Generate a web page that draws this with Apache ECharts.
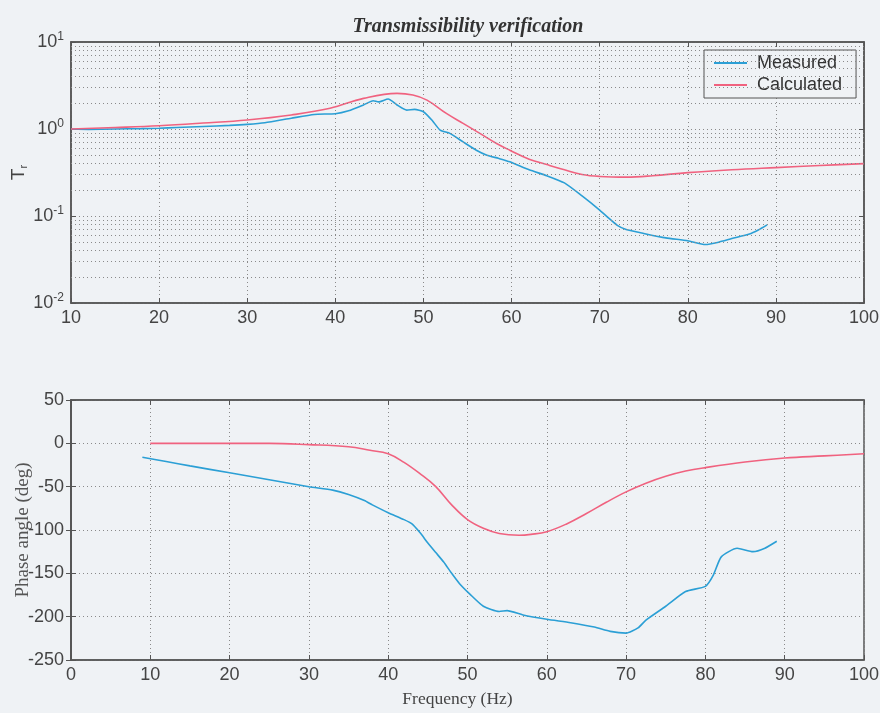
<!DOCTYPE html>
<html>
<head>
<meta charset="utf-8">
<script src="https://cdn.jsdelivr.net/npm/echarts@6/dist/echarts.min.js"></script>
<style>
html,body{margin:0;padding:0;background:#eff2f5;}
#c{width:880px;height:713px;}
</style>
</head>
<body>
<div id="c"></div>
<script>
// ---- Data ----
var titleText = 'Transmissibility verification';
var seriesNames = ['Measured', 'Calculated'];

var magFreqMeasured = [10,12,15,18,20,22,25,28,30,32,35,37.6,40,41.5,43.2,44.3,44.9,46,47,48.1,49,50,51,51.9,53,54.5,56,57.2,58.5,59.8,62,64,66,68,70,71,72,73,75,77.5,80,82,83.5,85,87,88,89];
var magMeasured = [1.00,0.99,1.00,1.01,1.02,1.04,1.07,1.10,1.13,1.18,1.33,1.47,1.50,1.62,1.89,2.11,2.05,2.21,1.89,1.65,1.68,1.58,1.25,0.97,0.89,0.71,0.57,0.50,0.46,0.42,0.34,0.29,0.24,0.17,0.117,0.095,0.078,0.070,0.063,0.056,0.052,0.047,0.050,0.055,0.062,0.069,0.079];

var magFreqCalc = [10,15,20,25,30,35,39.4,43.2,47,48.8,50.4,52.6,54.5,56.4,58.3,59.8,62,64,66,68,70,73,76,80,85,90,95,100];
var magCalc = [1.00,1.04,1.09,1.17,1.27,1.45,1.73,2.25,2.57,2.46,2.15,1.51,1.16,0.89,0.68,0.57,0.45,0.39,0.34,0.30,0.285,0.28,0.29,0.315,0.34,0.36,0.38,0.40];

var phFreqMeasured = [9,12,15,20,25,30,33,35,37,38,40,42,43,44,45,46,47,48,49,50.3,52,54,55,57,60,63,66,68,70,71.5,72.5,75,77.5,80,81,82,84,86,87.5,89];
var phMeasured = [-16,-21,-26,-34,-42,-50,-54,-59,-66,-71,-80,-88,-93,-103,-115,-126,-137,-150,-162,-174,-188,-194,-193,-198,-203,-207,-212,-217,-219,-213,-204,-188,-171,-165,-152,-131,-121,-125,-121,-113];

var phFreqCalc = [10,15,20,25,30,35,37.7,40,42,44,46,48,50,52,54,56.5,58,60,62.5,65,67.5,70,72.5,75,77.5,80,85,90,95,100];
var phCalc = [0,0,0,0,-1.5,-4,-8,-12,-22,-35,-50,-71,-88,-98,-104,-106,-105,-102,-93,-81,-68,-56,-46,-38,-32,-28,-21.6,-17,-14.5,-12];

var magMinorGrid = [0.02,0.03,0.04,0.05,0.06,0.07,0.08,0.09,0.2,0.3,0.4,0.5,0.6,0.7,0.8,0.9,2,3,4,5,6,7,8,9];

// ---- Helpers ----
function zip(a, b) { return a.map(function (v, i) { return [v, b[i]]; }); }
var blue = '#2b9fd5';
var red = '#f0627f';
var axisCol = '#555';
var gridCol = '#8a8a8a';
var labelFont = 'Liberation Sans, Arial, sans-serif';
var serif = 'Liberation Serif, DejaVu Serif, serif';

var chart = echarts.init(document.getElementById('c'));

function xAxisBase(grid, min, max) {
  return {
    type: 'value', gridIndex: grid, min: min, max: max, interval: 10,
    axisLine: { show: true, onZero: false, lineStyle: { color: axisCol, width: 1.5 } },
    axisTick: { show: true, inside: true, length: 5, lineStyle: { color: axisCol } },
    axisLabel: { color: '#444', fontSize: 18, fontFamily: labelFont, margin: 6 },
    splitLine: { show: true, lineStyle: { color: gridCol, type: [1, 3], width: 1 } }
  };
}
function boxAxisX(grid, min, max) {
  return {
    type: 'value', gridIndex: grid, min: min, max: max, interval: 10, position: 'top',
    axisLine: { show: true, onZero: false, lineStyle: { color: axisCol, width: 1.5 } },
    axisTick: { show: true, inside: true, length: 5, lineStyle: { color: axisCol } },
    axisLabel: { show: false }, splitLine: { show: false }
  };
}

var supMap = function (v) {
  var e = Math.round(Math.log10(v));
  return '{b|10}{s|' + e + '}';
};

var option = {
  backgroundColor: '#eff2f5',
  animation: false,
  title: {
    text: titleText, left: 463, top: 12, textAlign: 'center',
    textStyle: { fontFamily: serif, fontStyle: 'italic', fontWeight: 'bold', fontSize: 20, color: '#333' }
  },
  legend: {
    data: seriesNames,
    left: 704, top: 50,
    orient: 'vertical',
    backgroundColor: '#eff2f5',
    borderColor: '#555', borderWidth: 1,
    padding: [3, 14, 3, 10],
    itemGap: 2,
    itemWidth: 33, itemHeight: 2,
    icon: 'rect',
    textStyle: { fontFamily: labelFont, fontSize: 18, color: '#333', padding: [0, 0, 0, 5], lineHeight: 20 }
  },
  grid: [
    { left: 71, top: 42, width: 793, height: 261, show: true, borderColor: axisCol, borderWidth: 1.5, backgroundColor: 'transparent', outerBoundsMode: 'none', containLabel: false },
    { left: 71, top: 400, width: 793, height: 260, show: true, borderColor: axisCol, borderWidth: 1.5, backgroundColor: 'transparent', outerBoundsMode: 'none', containLabel: false }
  ],
  xAxis: [
    xAxisBase(0, 10, 100),
    Object.assign(xAxisBase(1, 0, 100), {
      name: 'Frequency (Hz)', nameLocation: 'middle', nameGap: 30, nameMoveOverlap: false,
      nameTextStyle: { fontFamily: serif, fontSize: 17.5, color: '#444', padding: [0, 20, 0, 0] }
    }),
    boxAxisX(0, 10, 100),
    boxAxisX(1, 0, 100)
  ],
  yAxis: [
    {
      type: 'log', logBase: 10, gridIndex: 0, min: 0.01, max: 10,
      name: '{t|T}{r|r}', nameLocation: 'middle', nameGap: 42, nameRotate: 90, nameMoveOverlap: false,
      nameTextStyle: { rich: {
        t: { fontFamily: labelFont, fontSize: 19, color: '#444' },
        r: { fontFamily: labelFont, fontSize: 11, color: '#444', padding: [10, 0, 0, 0] }
      } },
      axisLine: { show: true, lineStyle: { color: axisCol, width: 1.5 } },
      axisTick: { show: true, inside: true, length: 5, lineStyle: { color: axisCol } },
      axisLabel: {
        formatter: supMap, margin: 7,
        rich: {
          b: { fontFamily: labelFont, fontSize: 18, color: '#444' },
          s: { fontFamily: labelFont, fontSize: 12, color: '#444', padding: [0, 0, 10, 0] }
        }
      },
      splitLine: { show: true, lineStyle: { color: gridCol, type: [1, 3], width: 1 } }
    },
    {
      type: 'value', gridIndex: 1, min: -250, max: 50, interval: 50,
      name: 'Phase angle (deg)', nameLocation: 'middle', nameGap: 38, nameRotate: 90, nameMoveOverlap: false,
      nameTextStyle: { fontFamily: serif, fontSize: 19, color: '#555' },
      axisLine: { show: true, lineStyle: { color: axisCol, width: 1.5 } },
      axisTick: { show: true, inside: true, length: 5, lineStyle: { color: axisCol } },
      axisLabel: { color: '#444', fontSize: 18, fontFamily: labelFont, margin: 7 },
      splitLine: { show: true, lineStyle: { color: gridCol, type: [1, 3], width: 1 } }
    },
    {
      type: 'log', logBase: 10, gridIndex: 0, min: 0.01, max: 10, position: 'right',
      axisLine: { show: true, lineStyle: { color: axisCol, width: 1.5 } },
      axisTick: { show: true, inside: true, length: 5, lineStyle: { color: axisCol } },
      axisLabel: { show: false }, splitLine: { show: false }
    },
    {
      type: 'value', gridIndex: 1, min: -250, max: 50, interval: 50, position: 'right',
      axisLine: { show: true, lineStyle: { color: axisCol, width: 1.5 } },
      axisTick: { show: true, inside: true, length: 5, lineStyle: { color: axisCol } },
      axisLabel: { show: false }, splitLine: { show: false }
    }
  ],
  series: [
    {
      name: 'Measured', type: 'line', xAxisIndex: 0, yAxisIndex: 0,
      data: zip(magFreqMeasured, magMeasured), showSymbol: false, smooth: 0.2,
      lineStyle: { color: blue, width: 1.6 }, itemStyle: { color: blue }, z: 3
    },
    {
      name: 'Calculated', type: 'line', xAxisIndex: 0, yAxisIndex: 0,
      data: zip(magFreqCalc, magCalc), showSymbol: false, smooth: 0.4,
      lineStyle: { color: red, width: 1.6 }, itemStyle: { color: red }, z: 3,
      markLine: {
        silent: true, symbol: 'none', label: { show: false },
        lineStyle: { color: gridCol, type: [1, 3], width: 1 },
        data: magMinorGrid.map(function (v) { return { yAxis: v }; })
      }
    },
    {
      name: 'Measured', type: 'line', xAxisIndex: 1, yAxisIndex: 1,
      data: zip(phFreqMeasured, phMeasured), showSymbol: false, smooth: 0.2,
      lineStyle: { color: blue, width: 1.6 }, itemStyle: { color: blue }, z: 3
    },
    {
      name: 'Calculated', type: 'line', xAxisIndex: 1, yAxisIndex: 1,
      data: zip(phFreqCalc, phCalc), showSymbol: false, smooth: 0.4,
      lineStyle: { color: red, width: 1.6 }, itemStyle: { color: red }, z: 3
    }
  ]
};
chart.setOption(option);
</script>
</body>
</html>
